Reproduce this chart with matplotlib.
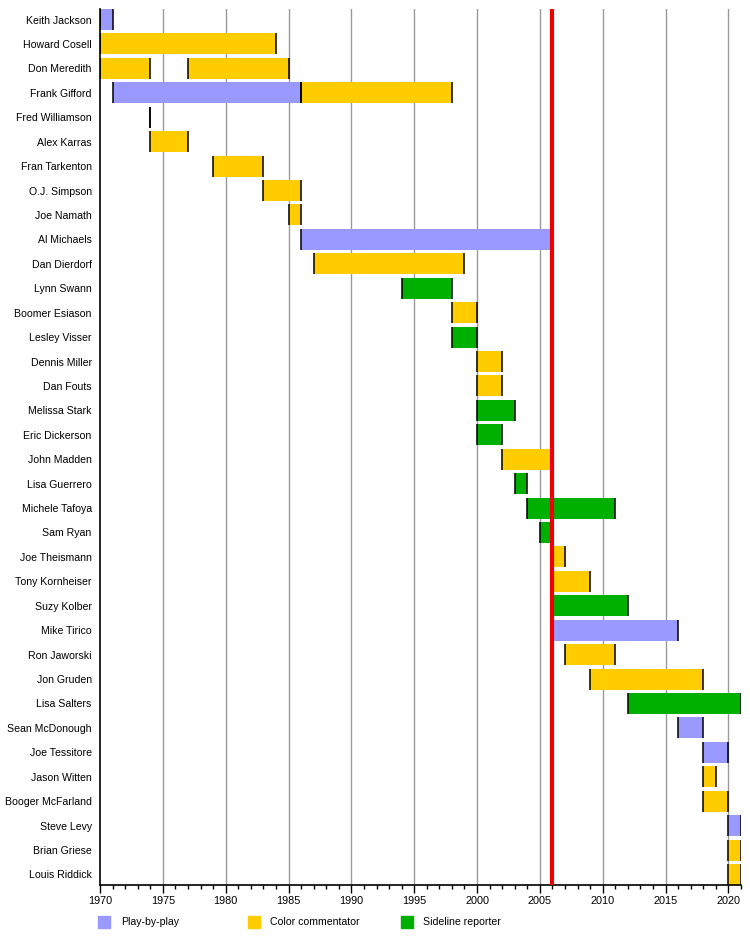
import matplotlib
matplotlib.use("Agg")
import matplotlib.pyplot as plt
from matplotlib.patches import Rectangle

plt.rcParams['font.family'] = ['Liberation Sans', 'DejaVu Sans']

names = ["Keith Jackson", "Howard Cosell", "Don Meredith", "Frank Gifford", "Fred Williamson",
         "Alex Karras", "Fran Tarkenton", "O.J. Simpson", "Joe Namath", "Al Michaels",
         "Dan Dierdorf", "Lynn Swann", "Boomer Esiason", "Lesley Visser", "Dennis Miller",
         "Dan Fouts", "Melissa Stark", "Eric Dickerson", "John Madden", "Lisa Guerrero",
         "Michele Tafoya", "Sam Ryan", "Joe Theismann", "Tony Kornheiser", "Suzy Kolber",
         "Mike Tirico", "Ron Jaworski", "Jon Gruden", "Lisa Salters", "Sean McDonough",
         "Joe Tessitore", "Jason Witten", "Booger McFarland", "Steve Levy", "Brian Griese",
         "Louis Riddick"]

# (person, start, end, role)
seg_person = ["Keith Jackson", "Howard Cosell", "Don Meredith", "Don Meredith",
              "Frank Gifford", "Frank Gifford", "Fred Williamson", "Alex Karras",
              "Fran Tarkenton", "O.J. Simpson", "Joe Namath", "Al Michaels",
              "Dan Dierdorf", "Lynn Swann", "Boomer Esiason", "Lesley Visser",
              "Dennis Miller", "Dan Fouts", "Melissa Stark", "Eric Dickerson",
              "John Madden", "Lisa Guerrero", "Michele Tafoya", "Sam Ryan",
              "Joe Theismann", "Tony Kornheiser", "Suzy Kolber", "Mike Tirico",
              "Ron Jaworski", "Jon Gruden", "Lisa Salters", "Sean McDonough",
              "Joe Tessitore", "Jason Witten", "Booger McFarland", "Steve Levy",
              "Brian Griese", "Louis Riddick"]
seg_start = [1970, 1970, 1970, 1977, 1971, 1986, 1974, 1974, 1979, 1983, 1985, 1986,
             1987, 1994, 1998, 1998, 2000, 2000, 2000, 2000, 2002, 2003, 2004, 2005,
             2006, 2006, 2006, 2006, 2007, 2009, 2012, 2016, 2018, 2018, 2018, 2020,
             2020, 2020]
seg_end = [1971, 1984, 1974, 1985, 1986, 1998, 1974, 1977, 1983, 1986, 1986, 2006,
           1999, 1998, 2000, 2000, 2002, 2002, 2003, 2002, 2006, 2004, 2011, 2006,
           2007, 2009, 2012, 2016, 2011, 2018, 2021, 2018, 2020, 2019, 2020, 2021,
           2021, 2021]
seg_role = ["pbp", "color", "color", "color", "pbp", "color", "color", "color",
            "color", "color", "color", "pbp", "color", "side", "color", "side",
            "color", "color", "side", "side", "color", "side", "side", "side",
            "color", "color", "side", "pbp", "color", "color", "side", "pbp",
            "pbp", "color", "color", "pbp", "color", "color"]

role_keys = ["pbp", "color", "side"]
role_labels = ["Play-by-play", "Color commentator", "Sideline reporter"]
role_colors = {"pbp": "#9999FF", "color": "#FFCC00", "side": "#00B000"}

marker_year = 2006
x_min, x_max = 1970, 2021

W, H = 750, 943
fig = plt.figure(figsize=(W / 100, H / 100), dpi=100)
L, R, T, B = 100, 741, 9, 885
ax = fig.add_axes([L / W, 1 - B / H, (R - L) / W, (B - T) / H])

h = 0.86
ypos = {n: i for i, n in enumerate(names)}

for x in range(1975, 2021, 5):
    ax.axvline(x, color="#999999", lw=1.0, zorder=0)

for p, s, e, r in zip(seg_person, seg_start, seg_end, seg_role):
    y = ypos[p]
    ax.barh(y, e - s, left=s, height=h, color=role_colors[r], edgecolor="none", zorder=2)
    ax.vlines([s, e], y - h / 2, y + h / 2, color="black", lw=1.1, zorder=3)

ax.axvline(marker_year, color="#ee0000", lw=3, zorder=5)

ax.set_xlim(x_min, x_max)
ax.set_ylim(len(names) - 1 + h / 2, -h / 2)
ax.set_yticks(range(len(names)))
ax.set_yticklabels(names, fontsize=7.6)
ax.tick_params(axis="y", length=0, pad=6)
ax.set_xticks(range(1970, 2021, 5))
ax.set_xticks(range(1970, 2022), minor=True)
ax.tick_params(axis="x", which="major", length=6, width=1, labelsize=7.8, pad=2, direction="out")
ax.tick_params(axis="x", which="minor", length=3, width=1, direction="out")
for sp in ["top", "right"]:
    ax.spines[sp].set_visible(False)
ax.spines["left"].set_linewidth(1.2)
ax.spines["bottom"].set_linewidth(1.2)

leg_sq_x = [98, 248, 401]
leg_txt_x = [121, 270, 423]
for k, lab, sx, tx in zip(role_keys, role_labels, leg_sq_x, leg_txt_x):
    fig.patches.append(Rectangle((sx / W, 1 - 928 / H), 12 / W, 12 / H,
                                 transform=fig.transFigure, color=role_colors[k]))
    fig.text(tx / W, 1 - 922 / H, lab, fontsize=7.6, va="center", ha="left")

fig.savefig("out.png", dpi=100)
